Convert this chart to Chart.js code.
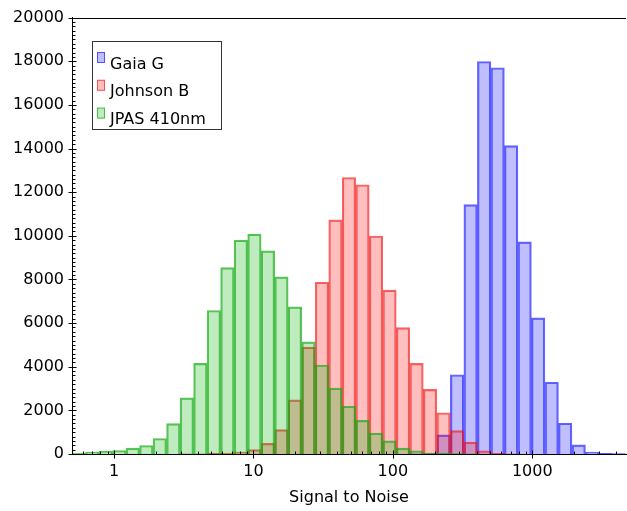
<!DOCTYPE html>
<html>
<head>
<meta charset="utf-8">
<script src="https://cdn.jsdelivr.net/npm/chart.js@4.4.1/dist/chart.umd.min.js"></script>
<style>
  html, body { margin: 0; padding: 0; background: #fff; }
</style>
</head>
<body>
<canvas id="myChart" width="627" height="511"></canvas>
<script>
// histogram bins: geometric centres, bins grow by x1.25 from 0.5
const binCenters = [0.559, 0.699, 0.873, 1.092, 1.365, 1.706, 2.132, 2.665, 3.331, 4.164,
  5.205, 6.507, 8.133, 10.17, 12.71, 15.88, 19.85, 24.82, 31.02, 38.78,
  48.47, 60.59, 75.74, 94.67, 118.3, 147.9, 184.9, 231.1, 288.9, 361.2,
  451.5, 564.3, 705.4, 881.8, 1102, 1378, 1722, 2153, 2691, 3364, 4205]
const xMin = 0.5
const xMax = 4701

const gaiaG = [0, 0, 0, 0, 0, 0, 0, 0, 0, 0,
  0, 0, 0, 0, 0, 0, 0, 0, 0, 0,
  0, 0, 0, 0, 0, 5, 20, 875, 3630, 11430,
  17990, 17700, 14130, 9720, 6240, 3290, 1410, 420, 90, 25, 15]
const johnsonB = [0, 0, 0, 0, 0, 0, 0, 0, 5, 10,
  30, 45, 90, 200, 490, 1120, 2480, 4900, 7870, 10730,
  12670, 12340, 9990, 7510, 5790, 4150, 2960, 1890, 1070, 545,
  150, 25, 5, 0, 0, 0, 0, 0, 0, 0, 0]
const jpas410 = [45, 90, 135, 160, 270, 390, 710, 1390, 2570, 4150,
  6575, 8540, 9800, 10080, 9310, 8120, 6740, 5140, 4080, 3020,
  2190, 1540, 955, 600, 270, 150, 45, 30, 15, 5,
  0, 0, 0, 0, 0, 0, 0, 0, 0, 0, 0]

const xTickLabels = [1, 10, 100, 1000]
const yMax = 20000
const yStep = 2000
const yMinorStep = 200

const seriesNames = ["Gaia G", "Johnson B", "JPAS 410nm"]

Chart.defaults.font.family = "'DejaVu Sans', sans-serif"
Chart.defaults.font.size = 16
Chart.defaults.color = "#000"

// tick marks, top frame line and the boxed legend
const decor = {
  id: "decor",
  afterDraw(chart) {
    const ctx = chart.ctx
    const area = chart.chartArea
    const xs = chart.scales.x
    const ys = chart.scales.y
    ctx.save()
    ctx.strokeStyle = "#000"
    ctx.lineWidth = 1

    ctx.beginPath()
    ctx.moveTo(area.left, Math.round(area.top) + 0.5)
    ctx.lineTo(area.right, Math.round(area.top) + 0.5)

    const ax = Math.round(area.left) + 0.5
    for (let v = 0; v <= yMax; v += yMinorStep) {
      const y = Math.round(ys.getPixelForValue(v)) + 0.5
      if (v % yStep === 0) {
        ctx.moveTo(ax - 4, y)
        ctx.lineTo(ax + 4, y)
      } else {
        ctx.moveTo(ax, y)
        ctx.lineTo(ax + 3, y)
      }
    }

    const by = Math.round(area.bottom) + 0.5
    for (let d = 0.1; d <= 1000; d *= 10) {
      for (let m = 1; m <= 9; m++) {
        const v = d * m
        if (v < xMin || v > xMax) continue
        const x = Math.round(xs.getPixelForValue(v)) + 0.5
        if (m === 1) {
          ctx.moveTo(x, by - 4)
          ctx.lineTo(x, by + 4)
        } else {
          ctx.moveTo(x, by - 3)
          ctx.lineTo(x, by)
        }
      }
    }
    ctx.stroke()

    // legend
    ctx.fillStyle = "#fff"
    ctx.fillRect(92, 41, 129, 88)
    ctx.strokeStyle = "#333"
    ctx.strokeRect(92.5, 41.5, 129, 88)
    ctx.font = "16px 'DejaVu Sans', sans-serif"
    ctx.textBaseline = "alphabetic"
    chart.data.datasets.forEach((ds, i) => {
      const top = 52 + i * 27.8
      ctx.fillStyle = ds.backgroundColor
      ctx.fillRect(97, top, 8, 11)
      ctx.strokeStyle = ds.borderColor
      ctx.strokeRect(97.5, top + 0.5, 7, 10)
      ctx.fillStyle = "#000"
      ctx.fillText(ds.label, 110, top + 16.5)
    })
    ctx.restore()
  }
}

new Chart("myChart", {
  type: "bar",
  data: {
    labels: binCenters,
    datasets: [{
      label: seriesNames[0],
      data: gaiaG,
      backgroundColor: "rgba(0,0,255,0.25)",
      borderColor: "rgba(20,20,255,0.65)",
      order: 3
    }, {
      label: seriesNames[1],
      data: johnsonB,
      backgroundColor: "rgba(255,0,0,0.25)",
      borderColor: "rgba(240,20,20,0.65)",
      order: 2
    }, {
      label: seriesNames[2],
      data: jpas410,
      backgroundColor: "rgba(0,180,0,0.25)",
      borderColor: "rgba(20,170,20,0.7)",
      order: 1
    }]
  },
  options: {
    responsive: false,
    animation: false,
    datasets: {
      bar: {
        grouped: false,
        categoryPercentage: 1,
        barPercentage: 1,
        borderWidth: 1.5
      }
    },
    layout: {padding: {top: 13, right: 1, left: 0, bottom: 0}},
    plugins: {legend: {display: false}, tooltip: {enabled: false}},
    scales: {
      x: {
        type: "logarithmic",
        min: xMin,
        max: xMax,
        afterBuildTicks: (scale) => {
          scale.ticks = xTickLabels.map(v => ({value: v}))
        },
        afterFit: (scale) => { scale.height = 57 },
        grid: {display: false, drawTicks: false},
        border: {display: true, color: "#000", width: 1},
        ticks: {
          autoSkip: false,
          maxRotation: 0,
          padding: 8,
          callback: (v) => String(v)
        },
        title: {
          display: true,
          text: "Signal to Noise",
          padding: {top: 0, bottom: 4}
        }
      },
      y: {
        min: 0,
        max: yMax,
        afterFit: (scale) => { scale.width = 72 },
        grid: {display: false, drawTicks: false},
        border: {display: true, color: "#000", width: 1},
        ticks: {
          stepSize: yStep,
          padding: 8,
          callback: (v) => String(v)
        }
      }
    }
  },
  plugins: [decor]
});
</script>
</body>
</html>
